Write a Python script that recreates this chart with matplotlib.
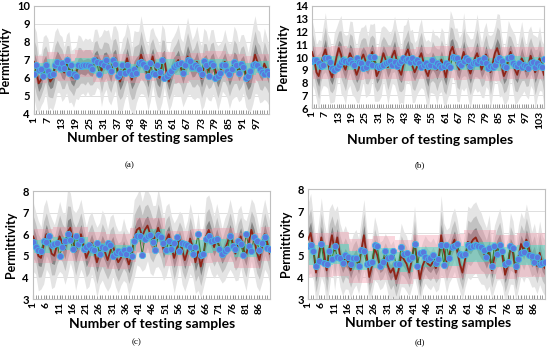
import numpy as np
import matplotlib
matplotlib.use("Agg")
import matplotlib.pyplot as plt

plt.rcParams['font.family'] = ['Lato', 'DejaVu Sans']

# ---- panel (a) ----
dots_a = [6.2, 6.75, 6.45, 6.5, 6.1, 6.75, 6.4, 6.15, 6.25, 6.75,
          6.9, 6.55, 6.85, 6.55, 7.0, 6.3, 6.7, 6.2, 6.1, 6.7,
          6.65, 6.7, 6.75, 6.7, 6.65, 6.5, 7.0, 6.9, 6.2, 6.85,
          6.7, 7.0, 6.6, 6.4, 7.0, 6.8, 6.1, 6.3, 6.75, 6.3,
          6.75, 6.4, 6.2, 6.5, 6.3, 6.85, 6.9, 6.8, 6.6, 6.1,
          6.85, 6.3, 6.25, 6.7, 6.35, 7.0, 6.0, 6.1, 6.3, 6.4,
          6.6, 6.7, 6.8, 6.85, 6.3, 6.7, 7.0, 6.95, 6.6, 6.7,
          6.6, 6.5, 6.2, 6.95, 6.7, 6.1, 6.85, 6.7, 6.0, 6.1,
          6.3, 6.7, 6.7, 6.4, 6.2, 6.5, 6.9, 6.7, 6.3, 6.8,
          6.6, 6.0, 6.1, 6.4, 6.7, 6.8, 6.7, 6.5, 6.35, 6.2,
          6.4, 6.2]
red_a = [6.9, 6.4, 5.7, 5.9, 6.5, 6.8, 6.2, 5.8, 6.0, 6.6,
         7.0, 6.8, 6.5, 6.3, 6.8, 6.6, 6.1, 6.0, 6.3, 6.6,
         6.7, 6.6, 6.6, 6.7, 6.6, 6.5, 6.9, 7.1, 6.8, 6.4,
         6.9, 7.0, 6.7, 6.3, 6.9, 7.1, 6.4, 5.8, 6.2, 6.6,
         7.1, 6.5, 5.9, 6.3, 6.6, 6.8, 7.3, 6.9, 6.5, 6.0,
         6.7, 7.2, 6.6, 6.2, 6.0, 6.8, 7.1, 6.2, 5.8, 6.3,
         6.7, 6.8, 7.0, 6.6, 6.2, 6.7, 7.2, 6.9, 6.5, 6.6,
         6.9, 6.5, 6.0, 6.6, 6.8, 6.4, 6.7, 6.9, 6.4, 6.0,
         6.3, 6.7, 6.9, 6.5, 6.1, 6.4, 6.9, 6.8, 6.3, 6.6,
         6.8, 6.2, 5.8, 6.1, 6.7, 7.3, 6.9, 6.6, 6.3, 6.8,
         6.5, 6.1]
sigma_a = [0.55, 0.6, 0.45, 0.4, 0.5, 0.45, 0.55, 0.4, 0.5, 0.55,
           0.5, 0.45, 0.5, 0.4, 0.45, 0.55, 0.4, 0.45, 0.4, 0.5,
           0.45, 0.4, 0.45, 0.4, 0.45, 0.4, 0.5, 0.45, 0.4, 0.55,
           0.5, 0.45, 0.55, 0.5, 0.55, 0.5, 0.6, 0.45, 0.55, 0.5,
           0.55, 0.6, 0.5, 0.65, 0.55, 0.5, 0.6, 0.5, 0.45, 0.5,
           0.55, 0.45, 0.5, 0.55, 0.5, 0.6, 0.45, 0.4, 0.45, 0.5,
           0.45, 0.5, 0.55, 0.45, 0.5, 0.55, 0.6, 0.5, 0.45, 0.5,
           0.55, 0.45, 0.5, 0.6, 0.5, 0.45, 0.55, 0.5, 0.45, 0.5,
           0.45, 0.4, 0.5, 0.45, 0.5, 0.45, 0.55, 0.5, 0.45, 0.5,
           0.45, 0.5, 0.45, 0.55, 0.6, 0.6, 0.5, 0.55, 0.45, 0.55,
           0.5, 0.45]
blk_len_a = [6, 5, 7, 8, 6, 9, 5, 7, 8, 6, 7, 9, 8, 5, 6]
blk_mid_a = [6.5, 6.7, 6.6, 6.8, 6.55, 6.6, 6.45, 6.6, 6.7, 6.5, 6.65, 6.75, 6.6, 6.5, 6.6]
halfw_a = (0.75, 0.33)   # pink, cyan

# ---- panel (b) ----
dots_b = [9.7, 9.8, 9.75, 9.5, 9.3, 9.4, 9.9, 9.95, 9.6, 9.1,
          9.0, 9.1, 9.4, 9.6, 9.8, 9.7, 9.6, 9.8, 9.5, 9.35,
          9.9, 9.6, 9.5, 9.1, 9.2, 9.5, 10.0, 9.4, 10.0, 9.3,
          9.25, 9.3, 9.35, 9.5, 9.6, 9.7, 9.4, 9.6, 9.3, 9.5,
          9.7, 9.9, 9.8, 9.85, 9.6, 9.9, 9.6, 9.75, 9.5, 9.2,
          9.4, 9.55, 9.3, 9.35, 9.8, 9.3, 9.5, 9.4, 9.2, 9.3,
          9.5, 9.35, 9.25, 10.0, 9.9, 9.95, 9.5, 9.4, 9.7, 9.9,
          9.8, 9.3, 9.5, 9.6, 9.5, 9.8, 9.6, 9.9, 9.5, 9.1,
          9.3, 9.2, 9.4, 9.8, 9.9, 9.7, 9.3, 9.2, 9.95, 10.0,
          9.5, 9.4, 9.3, 9.5, 9.2, 9.4, 9.3, 9.1, 9.5, 9.6,
          9.2, 9.5, 9.3, 9.2, 9.85]
red_b = [10.4, 9.8, 8.8, 8.5, 9.3, 10.1, 10.6, 9.7, 8.9, 8.4,
         9.2, 10.0, 10.7, 10.2, 9.4, 9.0, 9.6, 10.3, 9.9, 9.2,
         8.6, 9.1, 9.8, 10.2, 9.7, 9.3, 9.9, 10.4, 9.6, 8.5,
         8.9, 9.6, 10.3, 9.8, 9.2, 9.5, 10.1, 10.5, 9.7, 9.0,
         8.6, 9.4, 10.2, 10.6, 9.9, 9.3, 8.8, 9.2, 9.9, 10.3,
         9.6, 8.9, 8.5, 9.2, 9.7, 9.4, 9.0, 9.3, 9.8, 9.1,
         8.4, 9.4, 10.4, 10.8, 10.1, 9.4, 9.0, 9.7, 10.4, 9.8,
         9.2, 8.7, 9.3, 9.9, 10.3, 9.7, 9.0, 9.5, 10.2, 9.6,
         8.8, 9.5, 10.3, 10.7, 10.1, 9.3, 8.5, 8.9, 9.8, 10.4,
         9.7, 9.0, 8.6, 9.3, 9.9, 9.5, 8.9, 9.4, 10.1, 9.6,
         8.8, 9.2, 9.9, 9.3, 8.6]
sigma_b = [0.7, 0.65, 0.6, 0.8, 0.55, 0.65, 0.8, 0.6, 0.7, 0.55,
           0.75, 0.65, 0.6, 0.85, 0.7, 0.75, 0.6, 0.7, 0.8, 0.65,
           0.6, 0.75, 0.7, 0.6, 0.8, 0.65, 0.75, 0.6, 0.85, 0.55,
           0.65, 0.75, 0.6, 0.7, 0.8, 0.65, 0.6, 0.75, 0.7, 0.75,
           0.6, 0.85, 0.65, 0.7, 0.6, 0.8, 0.65, 0.6, 0.7, 0.75,
           0.6, 0.65, 0.8, 0.55, 0.7, 0.65, 0.75, 0.6, 0.7, 0.8,
           0.6, 0.7, 0.9, 0.65, 0.6, 0.8, 0.7, 0.6, 0.85, 0.6,
           0.7, 0.75, 0.6, 0.65, 0.85, 0.65, 0.6, 0.75, 0.7, 0.6,
           0.8, 0.65, 0.6, 0.75, 0.9, 0.65, 0.6, 0.7, 0.85, 0.55,
           0.65, 0.75, 0.6, 0.7, 0.8, 0.6, 0.55, 0.75, 0.65, 0.6,
           0.8, 0.65, 0.7, 0.55, 0.65]
blk_len_b = [9, 7, 8, 6, 10, 7, 8, 9, 6, 8, 7, 9, 11]
blk_mid_b = [9.5, 9.6, 9.45, 9.5, 9.55, 9.4, 9.5, 9.6, 9.45, 9.5, 9.4, 9.55, 9.5]
halfw_b = (1.25, 0.5)

# ---- panel (c) ----
dots_c = [5.65, 5.4, 5.25, 5.2, 5.7, 5.65, 5.9, 5.5, 5.55, 5.6,
          5.0, 5.4, 5.7, 6.0, 5.75, 5.3, 5.9, 5.55, 5.75, 5.3,
          5.4, 5.5, 5.3, 5.25, 5.6, 5.1, 5.4, 5.35, 5.6, 5.5,
          5.0, 5.15, 5.2, 5.15, 5.25, 5.1, 5.3, 5.0, 5.7, 5.9,
          5.9, 5.05, 5.8, 5.9, 5.95, 5.65, 5.25, 5.95, 5.85, 5.6,
          5.25, 5.7, 5.3, 5.6, 5.85, 5.2, 5.6, 5.55, 5.5, 5.4,
          5.1, 5.4, 6.0, 5.05, 5.1, 5.8, 5.9, 5.7, 5.75, 5.8,
          5.3, 5.1, 5.2, 5.3, 5.9, 5.45, 5.3, 5.7, 5.55, 5.05,
          6.0, 5.45, 5.2, 5.85, 5.7, 5.25, 5.6, 5.85, 5.35, 5.3]
red_c = [5.9, 5.6, 5.0, 4.9, 5.5, 6.0, 5.6, 5.1, 5.0, 5.5,
         5.9, 5.6, 5.3, 6.1, 6.3, 5.7, 5.2, 5.6, 6.0, 5.5,
         4.9, 5.2, 5.6, 5.2, 4.7, 5.1, 5.5, 5.2, 4.8, 5.2,
         5.5, 5.0, 4.7, 4.9, 5.3, 5.0, 4.6, 5.0, 5.8, 6.2,
         6.3, 5.9, 6.2, 6.4, 6.0, 5.7, 5.9, 6.3, 5.9, 5.3,
         5.7, 6.0, 5.4, 4.9, 5.3, 5.8, 5.3, 4.8, 5.2, 5.8,
         5.4, 4.7, 5.2, 4.5, 5.0, 5.9, 6.2, 5.8, 5.4, 5.8,
         5.4, 5.0, 5.3, 5.6, 6.0, 5.6, 5.1, 5.5, 5.9, 5.3,
         5.0, 5.6, 6.2, 5.8, 5.2, 4.8, 5.4, 6.0, 5.6, 5.1]
sigma_c = [0.45, 0.4, 0.45, 0.4, 0.5, 0.45, 0.4, 0.45, 0.4, 0.4,
           0.45, 0.4, 0.45, 0.55, 0.45, 0.4, 0.5, 0.45, 0.45, 0.4,
           0.4, 0.45, 0.4, 0.4, 0.45, 0.4, 0.45, 0.45, 0.4, 0.45,
           0.4, 0.4, 0.4, 0.35, 0.4, 0.35, 0.4, 0.4, 0.5, 0.45,
           0.5, 0.45, 0.5, 0.45, 0.5, 0.45, 0.4, 0.5, 0.45, 0.4,
           0.45, 0.4, 0.4, 0.45, 0.4, 0.35, 0.45, 0.4, 0.4, 0.45,
           0.4, 0.4, 0.5, 0.4, 0.4, 0.5, 0.45, 0.45, 0.4, 0.45,
           0.4, 0.35, 0.4, 0.4, 0.45, 0.4, 0.35, 0.45, 0.4, 0.4,
           0.45, 0.4, 0.4, 0.45, 0.45, 0.4, 0.45, 0.45, 0.4, 0.4]
blk_len_c = [8, 6, 7, 7, 9, 2, 11, 10, 8, 8, 10, 4]
blk_mid_c = [5.45, 5.55, 5.55, 5.3, 5.2, 5.5, 5.95, 5.35, 5.45, 5.5, 5.25, 5.55]
halfw_c = (0.8, 0.3)

# ---- panel (d) ----
dots_d = [5.4, 5.45, 5.2, 4.5, 4.75, 5.5, 4.65, 4.6, 5.2, 4.8,
          5.4, 4.9, 4.85, 4.65, 5.0, 4.9, 4.6, 4.85, 4.85, 4.5,
          5.25, 5.2, 4.6, 4.65, 4.7, 5.45, 5.4, 4.5, 4.7, 5.2,
          4.85, 4.9, 5.2, 4.6, 4.6, 5.35, 5.05, 5.1, 4.8, 4.9,
          5.5, 4.5, 5.1, 5.15, 4.9, 4.8, 4.85, 5.0, 4.65, 4.8,
          5.45, 4.55, 5.45, 4.85, 5.35, 5.4, 5.5, 5.05, 5.0, 5.05,
          5.45, 5.35, 5.4, 5.45, 5.4, 5.35, 5.25, 4.9, 5.3, 4.5,
          5.4, 5.05, 5.45, 5.2, 4.6, 4.7, 5.4, 5.3, 4.5, 4.8,
          5.1, 5.15, 5.5, 5.0, 4.95, 4.7, 4.9, 4.6, 4.65, 4.7]
red_d = [5.7, 6.0, 5.3, 4.2, 4.9, 5.8, 5.1, 4.3, 5.3, 5.9,
         5.2, 5.8, 5.0, 4.6, 4.9, 4.7, 4.3, 4.7, 4.9, 4.5,
         5.2, 5.9, 5.0, 4.0, 4.5, 5.3, 5.0, 4.5, 4.6, 4.9,
         4.5, 4.2, 4.4, 3.9, 4.3, 5.0, 4.8, 4.6, 4.2, 4.8,
         5.6, 4.7, 3.9, 4.5, 4.8, 4.6, 4.5, 4.7, 4.4, 4.7,
         5.9, 5.2, 4.7, 5.0, 5.4, 5.7, 5.2, 4.6, 4.2, 4.8,
         5.6, 5.5, 5.7, 5.8, 5.5, 5.3, 5.1, 4.8, 5.2, 4.3,
         4.9, 5.3, 5.5, 5.0, 4.1, 4.5, 5.3, 5.1, 4.2, 4.9,
         5.5, 5.2, 5.7, 5.3, 4.8, 5.0, 4.5, 5.1, 4.6, 4.4]
sigma_d = [0.45, 0.5, 0.4, 0.4, 0.45, 0.5, 0.4, 0.45, 0.5, 0.4,
           0.5, 0.4, 0.4, 0.4, 0.4, 0.35, 0.35, 0.35, 0.35, 0.35,
           0.4, 0.45, 0.35, 0.35, 0.35, 0.4, 0.35, 0.3, 0.3, 0.3,
           0.35, 0.35, 0.35, 0.35, 0.35, 0.4, 0.35, 0.35, 0.3, 0.35,
           0.45, 0.35, 0.35, 0.3, 0.3, 0.3, 0.3, 0.3, 0.3, 0.35,
           0.5, 0.35, 0.4, 0.35, 0.4, 0.4, 0.4, 0.35, 0.35, 0.35,
           0.45, 0.45, 0.45, 0.45, 0.45, 0.45, 0.4, 0.4, 0.45, 0.35,
           0.4, 0.4, 0.45, 0.4, 0.35, 0.35, 0.45, 0.4, 0.35, 0.4,
           0.4, 0.4, 0.45, 0.4, 0.35, 0.4, 0.35, 0.4, 0.35, 0.35]
blk_len_d = [10, 6, 9, 8, 7, 10, 9, 12, 8, 11]
blk_mid_d = [5.0, 5.05, 4.75, 4.85, 4.7, 4.9, 4.95, 5.15, 4.9, 5.0]
halfw_d = (1.0, 0.45)

panels = [
    (dots_a, red_a, sigma_a, blk_len_a, blk_mid_a, halfw_a, (4, 10), 6),
    (dots_b, red_b, sigma_b, blk_len_b, blk_mid_b, halfw_b, (6, 14), 6),
    (dots_c, red_c, sigma_c, blk_len_c, blk_mid_c, halfw_c, (3, 8), 5),
    (dots_d, red_d, sigma_d, blk_len_d, blk_mid_d, halfw_d, (3, 8), 5),
]

# axes boxes in pixels: left, top, right, bottom
boxes = [(34, 6, 269, 114), (312, 6, 544, 108), (33, 191, 270, 299), (308, 189, 545, 299)]
W, H = 550, 352

fig = plt.figure(figsize=(5.5, 3.52), dpi=100)

for (dots, red, sig, blen, bmid, hw, ylim, step), (l, t, r, b) in zip(panels, boxes):
    ax = fig.add_axes([l / W, 1 - b / H, (r - l) / W, (b - t) / H])
    n = len(dots)
    x = np.arange(1, n + 1)
    red = np.array(red)
    sig = np.array(sig)
    mid = np.repeat(bmid, blen)

    # uncertainty bands around the prediction
    ax.fill_between(x, red - 3.6 * sig, red + 3.6 * sig, color='#e4e4e4', lw=0, zorder=1)
    ax.fill_between(x, red - 2.2 * sig, red + 2.2 * sig, color='#c2c2c2', lw=0, zorder=1)
    ax.fill_between(x, red - sig, red + sig, color='#858585', lw=0, zorder=1)
    ax.fill_between(x, mid - hw[0], mid + hw[0], step='mid', color='#f28ca0', alpha=0.35, lw=0, zorder=2)
    ax.fill_between(x, mid - hw[1], mid + hw[1], step='mid', color='#2ee6c6', alpha=0.45, lw=0, zorder=2)
    ax.plot(x, red, color='#8e2418', lw=1.3, zorder=3)
    ax.plot(x, dots, color='#2f7d32', lw=0.7, zorder=4)
    ax.plot(x, dots, 'o', ms=4.5, mfc='#5a78dc', mec='#46b4e6', mew=0.6, zorder=5)

    ax.set_xlim(1, n)
    ax.set_ylim(*ylim)
    ax.set_yticks(range(ylim[0], ylim[1] + 1))
    ax.set_xticks(range(1, n + 1, step))
    ax.set_xticks(x, minor=True)
    ax.grid(axis='y', color='#d9d9d9', lw=0.6, zorder=0)
    ax.set_axisbelow(True)
    for s in ax.spines.values():
        s.set_color('#bfbfbf')
        s.set_linewidth(0.8)
    ax.tick_params(axis='x', which='both', direction='in', length=3, color='#8c8c8c',
                   labelrotation=90, labelsize=7.5, pad=2)
    ax.tick_params(axis='y', length=0, labelsize=8, pad=3)
    for lab in ax.get_xticklabels() + ax.get_yticklabels():
        lab.set_fontweight('bold')
    ax.set_ylabel('Permittivity', fontsize=9, fontweight='bold', labelpad=4)

# x labels and sub captions
for cx, cy in [(150, 138), (430, 140), (152, 324), (428, 323)]:
    fig.text(cx / W, 1 - cy / H, 'Number of testing samples', ha='center', va='center',
             fontsize=10, fontweight='bold')
for cx, cy, cap in [(130, 165, '(a)'), (420, 165, '(b)'), (137, 342, '(c)'), (420, 342, '(d)')]:
    fig.text(cx / W, 1 - cy / H, cap, ha='center', va='center', fontsize=6.5,
             family='Liberation Serif')

fig.savefig('out.png', dpi=100)
